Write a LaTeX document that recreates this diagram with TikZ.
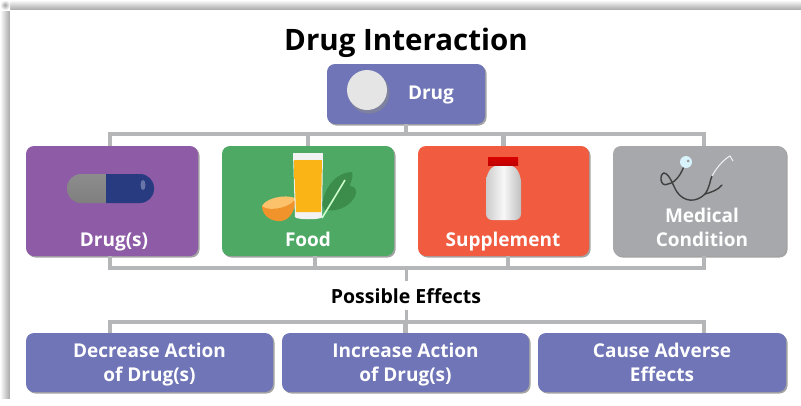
\documentclass[tikz,border=0pt]{standalone}
\usepackage{fontspec}
\setmainfont{Open Sans}
\usetikzlibrary{shadows,calc}
\definecolor{bluebox}{HTML}{6F75B6}
\definecolor{purplebox}{HTML}{8E5BA6}
\definecolor{greenbox}{HTML}{4EA965}
\definecolor{redbox}{HTML}{F15B40}
\definecolor{graybox}{HTML}{A6A8AB}
\definecolor{linkgray}{HTML}{B5B6B8}
\definecolor{capdark}{HTML}{283A80}
\definecolor{capmid}{HTML}{3D5199}
\definecolor{leafgreen}{HTML}{3C8C4C}
\definecolor{juicea}{HTML}{FFD23C}
\definecolor{juiceb}{HTML}{FBB416}
\definecolor{peel}{HTML}{F0932B}
\definecolor{pulp}{HTML}{FBC26B}
\tikzset{
  x=1pt,y=-1pt,
  box/.style={rectangle,rounded corners=8pt,inner sep=0pt,draw=none,
    drop shadow={shadow xshift=1.5pt,shadow yshift=-1.5pt,fill=black!60,opacity=.6}},
  lbl/.style={text=white,font=\bfseries\fontsize{19}{24}\selectfont,align=center,inner sep=0pt},
  link/.style={draw=linkgray,line width=4.5pt},
  thin link/.style={draw=linkgray,line width=3pt}
}
\begin{document}
\begin{tikzpicture}
\useasboundingbox (0,0) rectangle (801,405);
\fill[white] (0,0) rectangle (801,405);
\fill[left color=white,right color=black!35] (0,10) rectangle (10,398);
\fill[top color=white,bottom color=black!35] (10,0) rectangle (801,10);
\shade[inner color=black!35,outer color=white] (0,0) rectangle (10,10);
\fill[white] (10,10) rectangle (801,405);
% boxes
\node[box,fill=bluebox,minimum width=158pt,minimum height=60pt] (top) at (406,94) {};
\node[box,fill=purplebox,minimum width=172pt,minimum height=110pt] (b1) at (112,201) {};
\node[box,fill=greenbox,minimum width=172pt,minimum height=110pt] (b2) at (308,201) {};
\node[box,fill=redbox,minimum width=171pt,minimum height=110pt] (b3) at (503.5,201) {};
\node[box,fill=graybox,minimum width=173pt,minimum height=110pt] (b4) at (699.5,201) {};
\node[box,fill=bluebox,minimum width=247pt,minimum height=59pt] (e1) at (149.5,362.5) {};
\node[box,fill=bluebox,minimum width=247pt,minimum height=59pt] (e2) at (405.5,362.5) {};
\node[box,fill=bluebox,minimum width=248pt,minimum height=59pt] (e3) at (662,362.5) {};
% texts
\node[font=\bfseries\fontsize{29.5}{34}\selectfont,inner sep=0pt,anchor=base] (title) at (406,50) {Drug Interaction};
\node[lbl,anchor=base] (drug) at (431,99.5) {Drug};
\node[lbl,anchor=base] (drugs) at (114,246) {Drug(s)};
\node[lbl,anchor=base] (food) at (308,246) {Food};
\node[lbl,anchor=base] (supp) at (503,246) {Supplement};
\node[lbl] (med) at (702,229.5) {\strut Medical\\\strut Condition};
\node[font=\bfseries\fontsize{19.5}{22}\selectfont,inner xsep=0pt,inner ysep=6.5pt,anchor=base] (effects) at (406,303) {Possible Effects};
\node[lbl] (dec) at (149.5,364.3) {\strut Decrease Action\\\strut of Drug(s)};
\node[lbl] (inc) at (405.5,364.3) {\strut Increase Action\\\strut of Drug(s)};
\node[lbl] (adv) at (662,364.3) {\strut Cause Adverse\\\strut Effects};
% connector rails
\coordinate (ta) at (110,134); \coordinate (tb) at (704,134);
\coordinate (la) at (110,268); \coordinate (lb) at (704,268);
\coordinate (ea) at (110,322); \coordinate (eb) at (704,322);
\coordinate (lc) at (315,268); \coordinate (ld) at (508,268);
\begin{scope}[link,line join=miter]
\draw (ta |- b1.north) -- (ta) -- (tb) -- (tb |- b4.north);
\draw (la |- b1.south) -- (la) -- (lb) -- (lb |- b4.south);
\draw (ea |- e1.north) -- (ea) -- (eb) -- (eb |- e3.north);
\draw (top.south) -- (top.south |- ta);
\draw (b2.north) -- (b2.north |- ta);
\draw (b3.north) -- (b3.north |- ta);
\draw (lc |- b2.south) -- (lc);
\draw (ld |- b3.south) -- (ld);
\draw (ea -| e2.north) -- (e2.north);
\end{scope}
\draw[thin link] (la -| effects.north) -- (effects.north);
\draw[thin link] (effects.south) -- (ea -| effects.south);
% tablet
\fill[black!35!bluebox!70!white] (369,93) circle (20.5);
\fill[black!10] (367,90) circle (20);
% capsule
\shade[top color=black!45,middle color=black!12,bottom color=black!50,rounded corners=14pt]
  (125,174) -- (67,174) -- (67,203) -- (125,203) -- cycle;
\begin{scope}
\clip (106,170) rectangle (158,207);
\shade[top color=capdark,middle color=capmid,bottom color=capdark,rounded corners=14pt]
  (85,174) -- (154,174) -- (154,203) -- (85,203) -- cycle;
\end{scope}
\fill[white,opacity=.3] (143,185) ellipse (2.5 and 5);
% leaf
\fill[leafgreen] (322,205) .. controls (325,185) and (338,172) .. (352,172)
  .. controls (354,178) and (350,182) .. (350,186) .. controls (356,186) and (358,192) .. (354,198)
  .. controls (348,208) and (335,212) .. (325,210) -- cycle;
\draw[green!20!white,line width=1.6pt] (322,218) .. controls (330,205) and (336,195) .. (345,180);
% orange
\fill[peel] (262,206) .. controls (262,216) and (272,222) .. (281,221) .. controls (290,220) and (296,210) .. (295,198) -- cycle;
\fill[pulp] (262,206) .. controls (266,198) and (285,194) .. (295,198) .. controls (294,206) and (270,213) .. (262,206) -- cycle;
% glass
\fill[black!5] (293,153) -- (323,153) -- (322,217) .. controls (322,220) and (296,220) .. (295,217) -- cycle;
\shade[left color=juiceb,middle color=juicea,right color=juiceb]
  (294,160) -- (322,160) -- (321,212) -- (296,212) -- cycle;
% bottle
\shade[left color=black!20,right color=black!25,middle color=black!3,rounded corners=6pt]
  (493,165) -- (486,176) -- (486,220) -- (521,220) -- (521,176) -- (514,165) -- cycle;
\shade[top color=red!85!black,bottom color=red!75!black] (488,157) rectangle (518,165);
% stethoscope
\draw[black!75,line width=1.4pt,line cap=round]
  (684,166) .. controls (680,178) and (672,184) .. (668,184)
  .. controls (660,188) and (659,174) .. (664,173)
  .. controls (670,174) and (673,186) .. (677,192)
  .. controls (684,202) and (696,203) .. (705,194)
  .. controls (710,187) and (710,180) .. (712,176);
\draw[black!75,line width=1.4pt,line cap=round] (705,194) .. controls (712,192) and (718,190) .. (722,185);
\draw[white!85!graybox,line width=1pt] (712,176) .. controls (718,165) and (726,158) .. (730,156) -- (733,161);
\fill[white!85!cyan] (686,162) circle (6);
\fill[black!40] (688,161) circle (1.5);
\end{tikzpicture}
\end{document}
